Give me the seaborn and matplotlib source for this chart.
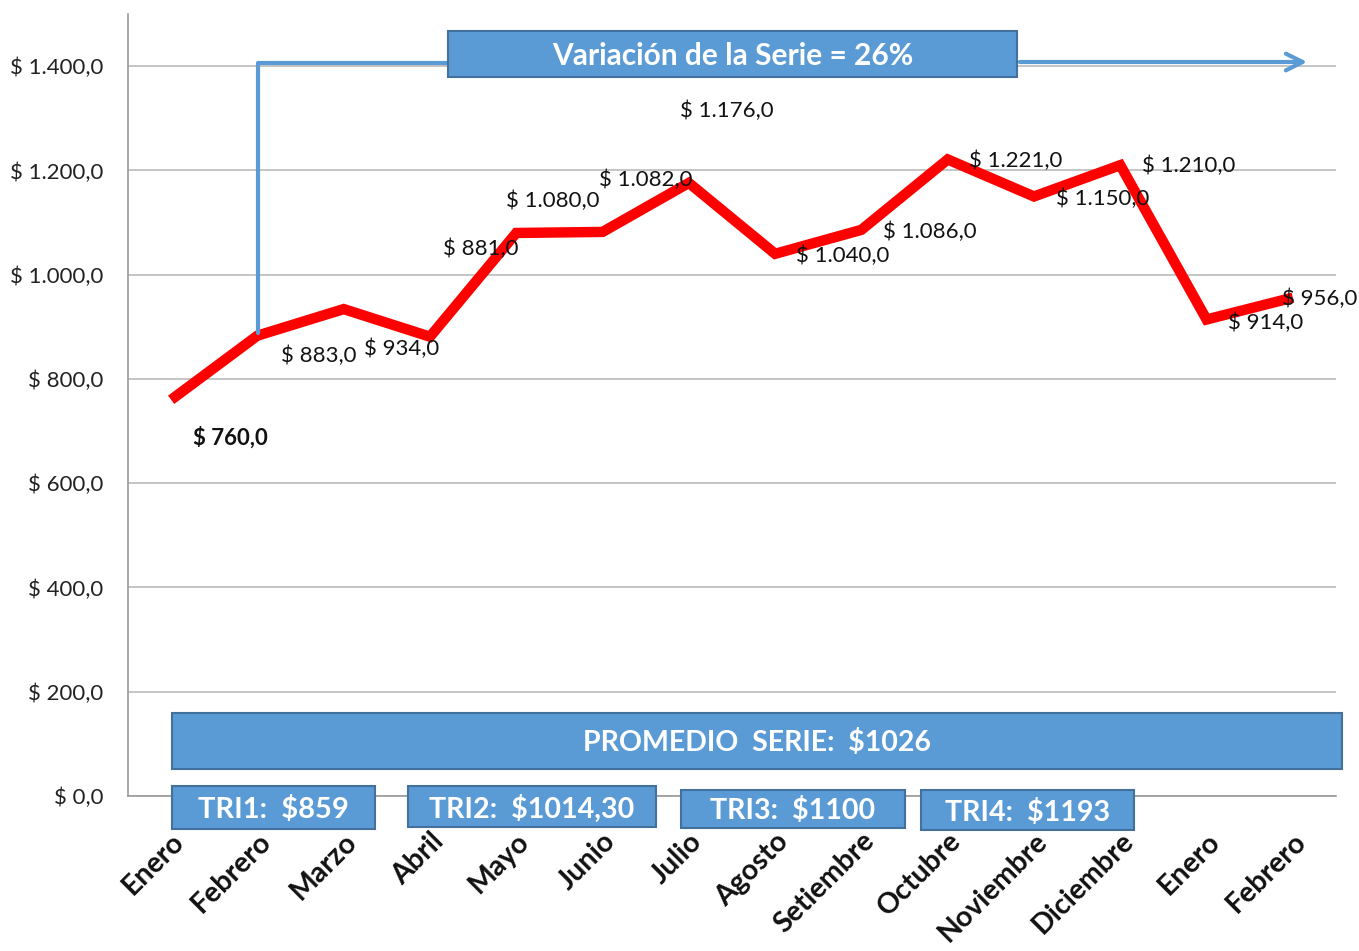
import matplotlib
matplotlib.use("Agg")
import matplotlib.pyplot as plt
import seaborn as sns
import numpy as np
import pandas as pd
from matplotlib.patches import Rectangle, FancyArrowPatch

months = ["Enero", "Febrero", "Marzo", "Abril", "Mayo", "Junio", "Julio", "Agosto",
          "Setiembre", "Octubre", "Noviembre", "Diciembre", "Enero", "Febrero"]
values = [760, 883, 934, 881, 1080, 1082, 1176, 1040, 1086, 1221, 1150, 1210, 914, 956]
# label offsets in pixels (dx, dy up)
label_dx = [59, 61, 58, 51, 36, 43, 38, 68, 68, 68, 69, 68, 59, 27]
label_dy = [-38, -20, -40, 88, 32, 52, 72, -2, -2, -1, -2, -1, -3, -1]
yticks = [0, 200, 400, 600, 800, 1000, 1200, 1400]

sns.set_theme(style="white")
plt.rcParams['font.family'] = ['Lato', 'DejaVu Sans']

W, H = 1359, 951
fig = plt.figure(figsize=(W / 100, H / 100), dpi=100)
ax = fig.add_axes([128 / W, 1 - 796 / H, (1336 - 128) / W, (796 - 14) / H])

df = pd.DataFrame({"x": np.arange(len(values)), "v": values})
sns.lineplot(data=df, x="x", y="v", ax=ax, color="#FF0000", linewidth=7.5)
for l in ax.lines:
    l.set_solid_joinstyle("miter")
    l.set_solid_capstyle("butt")


def money(v):
    return "$ " + f"{v:,.1f}".replace(",", "X").replace(".", ",").replace("X", ".")


ax.set_xlim(-0.5, len(values) - 0.5)
ax.set_ylim(0, 1500)
ax.set_yticks(yticks)
ax.set_yticklabels([money(v) for v in yticks], fontsize=16, color="#222222")
ax.yaxis.grid(True, color="#BBBBBB", linewidth=1.2)
ax.set_axisbelow(True)
ax.set_xticks(np.arange(len(values)))
ax.set_xticklabels(months, rotation=45, ha="right", rotation_mode="anchor",
                   fontsize=20.5, fontweight="bold", color="#111111")
ax.set_xticks(np.arange(-0.5, len(values), 1), minor=True)
ax.tick_params(axis="x", which="major", length=0, pad=23)
ax.tick_params(axis="x", which="minor", length=7, color="#999999", width=1.2, direction="out")
ax.tick_params(axis="y", which="major", length=6, color="#999999", width=1.2, direction="out", pad=12)
ax.set_xlabel("")
ax.set_ylabel("")
for s in ["top", "right"]:
    ax.spines[s].set_visible(False)
ax.spines["left"].set_color("#999999")
ax.spines["left"].set_linewidth(1.2)
ax.spines["bottom"].set_color("#999999")
ax.spines["bottom"].set_linewidth(1.2)

for i, v in enumerate(values):
    ax.annotate(money(v), (i, v), xytext=(label_dx[i], label_dy[i]), textcoords="offset pixels",
                ha="center", va="center", fontsize=16, color="#111111",
                fontweight="bold" if i == 0 else "normal", zorder=5)


def fx(x):
    return x / W


def fy(y):
    return 1 - y / H


blue = "#5B9BD5"
edge = "#41719C"

# connector line
fig.add_artist(plt.Line2D([fx(258), fx(258), fx(448)], [fy(333), fy(63), fy(63)],
                          color=blue, linewidth=3, transform=fig.transFigure, zorder=3))
fig.add_artist(FancyArrowPatch((fx(1017), fy(62)), (fx(1310), fy(62)), transform=fig.transFigure,
                               arrowstyle="->,head_length=12,head_width=6", color=blue,
                               linewidth=3, mutation_scale=1))


def box(x0, y0, x1, y1, text, fs):
    fig.add_artist(Rectangle((fx(x0), fy(y1)), fx(x1) - fx(x0), fy(y0) - fy(y1),
                             transform=fig.transFigure, facecolor=blue, edgecolor=edge,
                             linewidth=1.5, zorder=6))
    fig.text(fx((x0 + x1) / 2), fy((y0 + y1) / 2 + 2), text, ha="center", va="center",
             color="white", fontsize=fs, fontweight="bold", zorder=7)


box(448, 31, 1017, 77, "Variación de la Serie = 26%", 21.5)
box(172, 713, 1342, 769, "PROMEDIO  SERIE:  $1026", 20.5)
box(172, 786, 375, 829, "TRI1:  $859", 21)
box(408, 786, 656, 827, "TRI2:  $1014,30", 20.6)
box(681, 790, 905, 828, "TRI3:  $1100", 20.6)
box(921, 790, 1134, 830, "TRI4:  $1193", 20.6)

fig.savefig("out.png", dpi=100, facecolor="white")
